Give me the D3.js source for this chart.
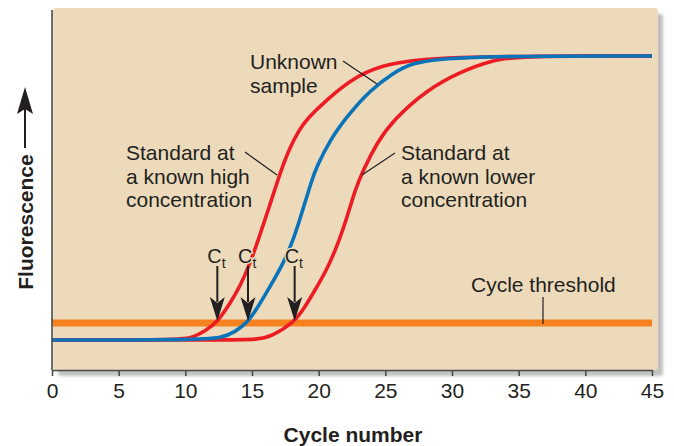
<!DOCTYPE html>
<html>
<head>
<meta charset="utf-8">
<script src="https://cdn.jsdelivr.net/npm/d3@7/dist/d3.min.js"></script>
<style>
  html, body { margin: 0; padding: 0; background: #fff; }
  svg { display: block; }
  text { font-family: "Liberation Sans", Arial, Helvetica, sans-serif; fill: #231f20; }
</style>
</head>
<body>
<svg id="chart" width="674" height="446"></svg>
<script>
// Amplification curves: [cycle, relative fluorescence] (baseline = 0, plateau = 100)
const highStandard = [
  [0, 0], [10.0, 0], [10.6, 1.1], [11.5, 3.2], [12.4, 6.3], [13.35, 12.9],
  [14.1, 18.8], [14.85, 27.0], [15.47, 35.2], [16.22, 45.8], [17.18, 59.9],
  [17.85, 67.8], [18.45, 73.3], [19.1, 77.8], [20.6, 84.5], [22.35, 91.5],
  [24.6, 96.8], [28.6, 100], [45, 100]
];
const unknownSample = [
  [0, 0], [10.7, 0], [12.8, 0.7], [13.7, 2.8], [14.7, 6.3], [15.45, 11.7],
  [16.35, 18.8], [17.35, 27.0], [18.1, 35.2], [18.73, 44.6], [19.48, 56.3],
  [19.85, 61.0], [20.85, 70.4], [22.1, 78.6], [23.85, 88.0], [25.6, 94.0],
  [26.9, 97.5], [30.1, 100], [45, 100]
];
const lowStandard = [
  [0, 0], [13.4, 0], [15.4, 0.2], [16.4, 1.1], [18.2, 6.3], [18.98, 11.7],
  [19.73, 17.6], [20.6, 24.6], [21.47, 34.0], [22.22, 44.6], [22.73, 52.8],
  [23.35, 59.9], [24.35, 69.3], [25.6, 77.5], [28.1, 88.0], [30.6, 94.4],
  [33.1, 98.6], [35.1, 100], [45, 100]
];

const thresholdLevel = 6.0;
const ctValues = [12.4, 14.7, 18.2];
const xTicks = [0, 5, 10, 15, 20, 25, 30, 35, 40, 45];

const COLORS = { red: "#ed1c24", blue: "#0a74bb", orange: "#f5821f", panel: "#ecdabb" };

const svg = d3.select("#chart");

const x = d3.scaleLinear().domain([0, 45]).range([52, 652]);
const y = d3.scaleLinear().domain([0, 100]).range([340, 56]);
const yBottom = y(-10.56);   // x-axis position
const yTop = y(116.2);       // top of the y-axis line

// drop shadow for the plot panel
const defs = svg.append("defs");
const f = defs.append("filter").attr("id", "shadow")
  .attr("x", "-5%").attr("y", "-5%").attr("width", "115%").attr("height", "115%");
f.append("feDropShadow").attr("dx", 5).attr("dy", 6).attr("stdDeviation", 1.6)
  .attr("flood-color", "#8c8c8c").attr("flood-opacity", 0.55);

svg.append("rect")
  .attr("x", 53).attr("y", 8)
  .attr("width", 658 - 53).attr("height", yBottom - 8)
  .attr("rx", 3)
  .attr("fill", COLORS.panel)
  .attr("filter", "url(#shadow)");

// cycle threshold
svg.append("line")
  .attr("x1", x(0)).attr("x2", x(45))
  .attr("y1", y(thresholdLevel)).attr("y2", y(thresholdLevel))
  .attr("stroke", COLORS.orange).attr("stroke-width", 7);

// curves (smoothed through the sampled points)
const line = d3.line().x(d => x(d[0])).y(d => y(d[1])).curve(d3.curveBasis);
[[lowStandard, COLORS.red], [highStandard, COLORS.red], [unknownSample, COLORS.blue]]
  .forEach(([data, color]) => {
    svg.append("path").datum(data)
      .attr("d", line)
      .attr("fill", "none")
      .attr("stroke", color)
      .attr("stroke-width", 3.6)
      .attr("stroke-linecap", "butt");
  });

// axes
svg.append("line")
  .attr("x1", 52).attr("x2", 52).attr("y1", yTop).attr("y2", yBottom)
  .attr("stroke", "#4a4a4a").attr("stroke-width", 1.6);

const xAxis = svg.append("g")
  .attr("transform", `translate(0,${yBottom})`)
  .call(d3.axisBottom(x).tickValues(xTicks).tickSize(6).tickSizeOuter(0).tickPadding(7));
xAxis.select(".domain").attr("stroke", "#4a4a4a").attr("stroke-width", 1.6);
xAxis.selectAll(".tick line").attr("stroke", "#4a4a4a").attr("stroke-width", 1.6);
xAxis.selectAll(".tick text")
  .style("font-family", '"Liberation Sans", Arial, sans-serif')
  .style("font-size", "21px").attr("fill", "#231f20");

svg.append("text")
  .attr("x", 353).attr("y", 442)
  .attr("text-anchor", "middle")
  .style("font-size", "21px").style("font-weight", "bold")
  .text("Cycle number");

// y-axis title with upward arrow
svg.append("text")
  .attr("transform", "translate(33,222) rotate(-90)")
  .attr("text-anchor", "middle")
  .style("font-size", "21px").style("font-weight", "bold")
  .text("Fluorescence");
svg.append("line")
  .attr("x1", 25).attr("x2", 25).attr("y1", 148).attr("y2", 106)
  .attr("stroke", "#231f20").attr("stroke-width", 2);
svg.append("path")
  .attr("d", "M25,87 L33,114 L25,109 L17,114 Z")
  .attr("fill", "#231f20");

// annotations
function block(x0, yBase, lines) {
  const t = svg.append("text").attr("x", x0).attr("y", yBase).style("font-size", "21px");
  lines.forEach((s, i) => t.append("tspan").attr("x", x0).attr("dy", i === 0 ? 0 : 23.5).text(s));
}
function leader(x1, y1, x2, y2) {
  svg.append("line").attr("x1", x1).attr("y1", y1).attr("x2", x2).attr("y2", y2)
    .attr("stroke", "#231f20").attr("stroke-width", 1.2);
}

block(250, 69, ["Unknown", "sample"]);
leader(343, 61, 377, 84);

block(126, 160, ["Standard at", "a known high", "concentration"]);
leader(245, 152, 277, 175);

block(401, 160, ["Standard at", "a known lower", "concentration"]);
leader(395, 153, 362, 175);

svg.append("text").attr("x", 471).attr("y", 292).style("font-size", "21px").text("Cycle threshold");
leader(543, 297, 543, 324);

// Ct markers
ctValues.forEach(ct => {
  const cx = x(ct);
  const t = svg.append("text")
    .attr("x", cx - 10).attr("y", 263)
    .style("font-size", "20px")
    .attr("stroke", COLORS.panel).attr("stroke-width", 3)
    .attr("paint-order", "stroke");
  t.append("tspan").text("C");
  t.append("tspan").attr("dy", 5).style("font-size", "14px").text("t");

  svg.append("line")
    .attr("x1", cx).attr("x2", cx).attr("y1", 266).attr("y2", 302)
    .attr("stroke", "#231f20").attr("stroke-width", 2);
  const tipY = y(thresholdLevel) - 2;
  svg.append("path")
    .attr("d", `M${cx},${tipY} L${cx + 7.5},${tipY - 24} L${cx},${tipY - 18} L${cx - 7.5},${tipY - 24} Z`)
    .attr("fill", "#231f20");
});
</script>
</body>
</html>
